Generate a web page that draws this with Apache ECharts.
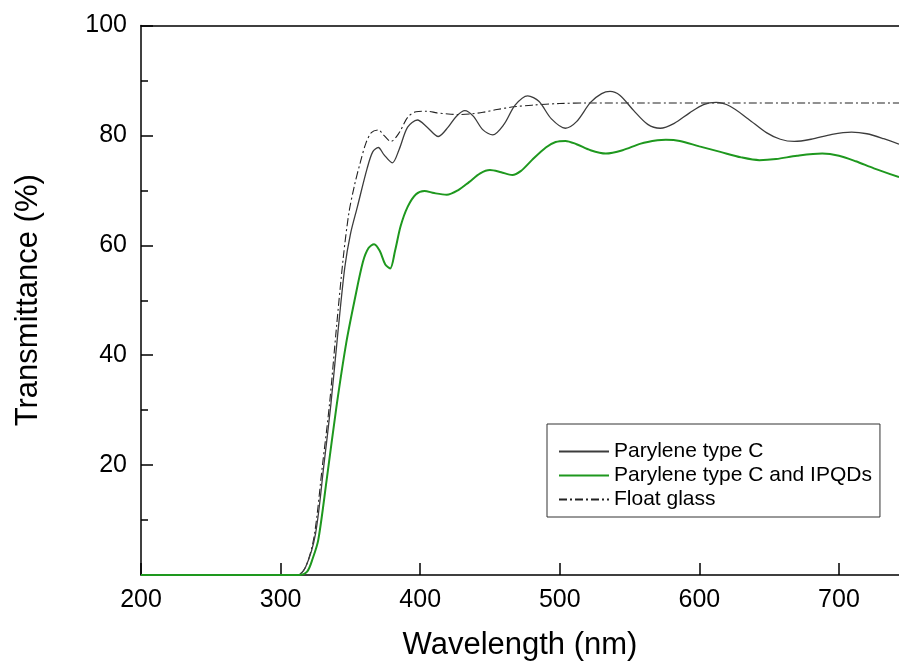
<!DOCTYPE html>
<html>
<head>
<meta charset="utf-8">
<script src="https://cdn.jsdelivr.net/npm/echarts@6/dist/echarts.min.js"></script>
<style>
html,body{margin:0;padding:0;background:#fff;}
#chart{width:899px;height:664px;}
</style>
</head>
<body>
<div id="chart"></div>
<script>
// ---- Data ----
var seriesNames = ['Parylene type C', 'Parylene type C and IPQDs', 'Float glass'];
var xTicks = [200, 300, 400, 500, 600, 700];
var yTicks = [20, 40, 60, 80, 100];

var paryleneWl = [200, 312, 318, 325, 331, 336, 341, 346, 350, 355, 362, 366, 370, 374, 380, 385, 391, 398, 405, 413, 420, 426, 432, 438, 445, 452, 460, 468, 477, 485, 494, 504, 512, 522, 530, 536, 543, 553, 563, 572, 582, 593, 603, 612, 622, 635, 648, 658, 668, 680, 695, 709, 720, 732, 743];
var paryleneT  = [0, 0, 1.5, 7.5, 20, 31, 44, 56, 62, 67, 74, 77, 77.8, 76.5, 75, 77.5, 81.5, 82.8, 81.5, 79.8, 81.5, 83.5, 84.5, 83.5, 81, 80.1, 82, 85.5, 87.2, 86.2, 83, 81.3, 82.5, 86, 87.6, 88, 87.3, 84.5, 82, 81.3, 82.2, 84.1, 85.6, 86, 85.3, 83, 80.5, 79.3, 78.9, 79.3, 80.2, 80.6, 80.3, 79.4, 78.4];

var ipqdWl = [200, 313, 319, 323, 327, 333, 340, 347, 353, 359, 363, 367, 371, 375, 378.5, 382, 386, 391, 397, 403, 410, 419, 427, 435, 443, 450, 458, 466, 472, 480, 490, 497, 504, 512, 522, 533, 545, 558, 570, 576, 586, 600, 615, 630, 643, 655, 670, 688, 700, 712, 725, 743];
var ipqdT  = [0, 0, 0.6, 3, 6.4, 17.3, 30.6, 42.2, 50, 57, 59.5, 60.2, 59, 56.5, 55.8, 59, 63.5, 67, 69.3, 69.9, 69.5, 69.2, 70, 71.5, 73.1, 73.7, 73.3, 72.8, 73.5, 75.5, 77.8, 78.8, 79, 78.4, 77.3, 76.7, 77.3, 78.5, 79.1, 79.2, 79, 78, 77, 76, 75.5, 75.7, 76.3, 76.7, 76.3, 75.3, 74, 72.4];

var glassWl = [200, 312, 318, 324, 330, 335, 340, 345, 349, 353, 357, 361, 365, 370, 374, 379, 385, 391, 397, 405, 412, 420, 428, 436, 445, 455, 467, 480, 500, 520, 560, 620, 680, 743];
var glassT  = [0, 0, 1.5, 7, 20, 31, 45, 58, 66, 71, 75, 78.5, 80.5, 81, 80, 78.9, 80.5, 83.3, 84.3, 84.4, 84.1, 83.9, 83.8, 83.9, 84.2, 84.7, 85.2, 85.5, 85.8, 85.9, 85.9, 85.9, 85.9, 85.9];

function pairs(xs, ys) { return xs.map(function (x, i) { return [x, ys[i]]; }); }

var FONT = "Arial, 'Liberation Sans', sans-serif";
var chart = echarts.init(document.getElementById('chart'), null, {renderer: 'canvas'});

chart.setOption({
  animation: false,
  backgroundColor: '#fff',
  grid: {left: 141, top: 25.5, right: 0, bottom: 89, containLabel: false, outerBoundsMode: 'none'},
  legend: {
    orient: 'vertical',
    left: 547,
    top: 424,
    padding: [17, 8, 7, 11],
    borderColor: '#333',
    borderWidth: 1,
    itemWidth: 50,
    itemHeight: 14,
    itemGap: 3,
    itemStyle: {opacity: 0},
    textStyle: {fontFamily: FONT, fontSize: 21, color: '#000', lineHeight: 21},
    data: seriesNames
  },
  xAxis: [{
    type: 'value',
    min: 200,
    max: 743,
    interval: 100,
    name: 'Wavelength (nm)',
    nameLocation: 'middle',
    nameGap: 55,
    nameTextStyle: {fontFamily: FONT, fontSize: 31, color: '#000'},
    axisLine: {lineStyle: {color: '#000', width: 1.5}},
    axisTick: {inside: true, length: 12, customValues: xTicks, lineStyle: {color: '#000', width: 1.5}},
    axisLabel: {fontFamily: FONT, fontSize: 25, color: '#000', margin: 13, customValues: xTicks,
      formatter: function (v) { return xTicks.indexOf(v) >= 0 ? String(v) : ''; }},
    splitLine: {show: false}
  }, {
    type: 'value',
    position: 'top',
    min: 200, max: 743,
    axisLine: {show: true, lineStyle: {color: '#000', width: 1.5}},
    axisTick: {show: false},
    axisLabel: {show: false},
    splitLine: {show: false}
  }],
  yAxis: {
    type: 'value',
    min: 0,
    max: 100,
    interval: 20,
    name: 'Transmittance (%)',
    nameLocation: 'middle',
    nameGap: 97,
    nameTextStyle: {fontFamily: FONT, fontSize: 31, color: '#000'},
    axisLine: {show: true, lineStyle: {color: '#000', width: 1.5}},
    axisTick: {inside: true, length: 12, lineStyle: {color: '#000', width: 1.5}},
    minorTick: {show: true, splitNumber: 2, length: 7, lineStyle: {color: '#000', width: 1.5}},
    axisLabel: {fontFamily: FONT, fontSize: 25, color: '#000', margin: 14,
      formatter: function (v) { return yTicks.indexOf(v) >= 0 ? String(v) : ''; }},
    splitLine: {show: false}
  },
  series: [{
    name: seriesNames[0],
    type: 'line',
    data: pairs(paryleneWl, paryleneT),
    symbol: 'none',
    smooth: 0.3,
    color: '#3c3c3c',
    lineStyle: {color: '#3c3c3c', width: 1.3},
    z: 3
  }, {
    name: seriesNames[1],
    type: 'line',
    data: pairs(ipqdWl, ipqdT),
    symbol: 'none',
    smooth: 0.3,
    color: '#1e981e',
    lineStyle: {color: '#1e981e', width: 2},
    z: 4
  }, {
    name: seriesNames[2],
    type: 'line',
    data: pairs(glassWl, glassT),
    symbol: 'none',
    smooth: 0.3,
    color: '#222',
    lineStyle: {color: '#222', width: 1.1, type: [8, 3, 2, 3]},
    z: 2
  }]
});
</script>
</body>
</html>
